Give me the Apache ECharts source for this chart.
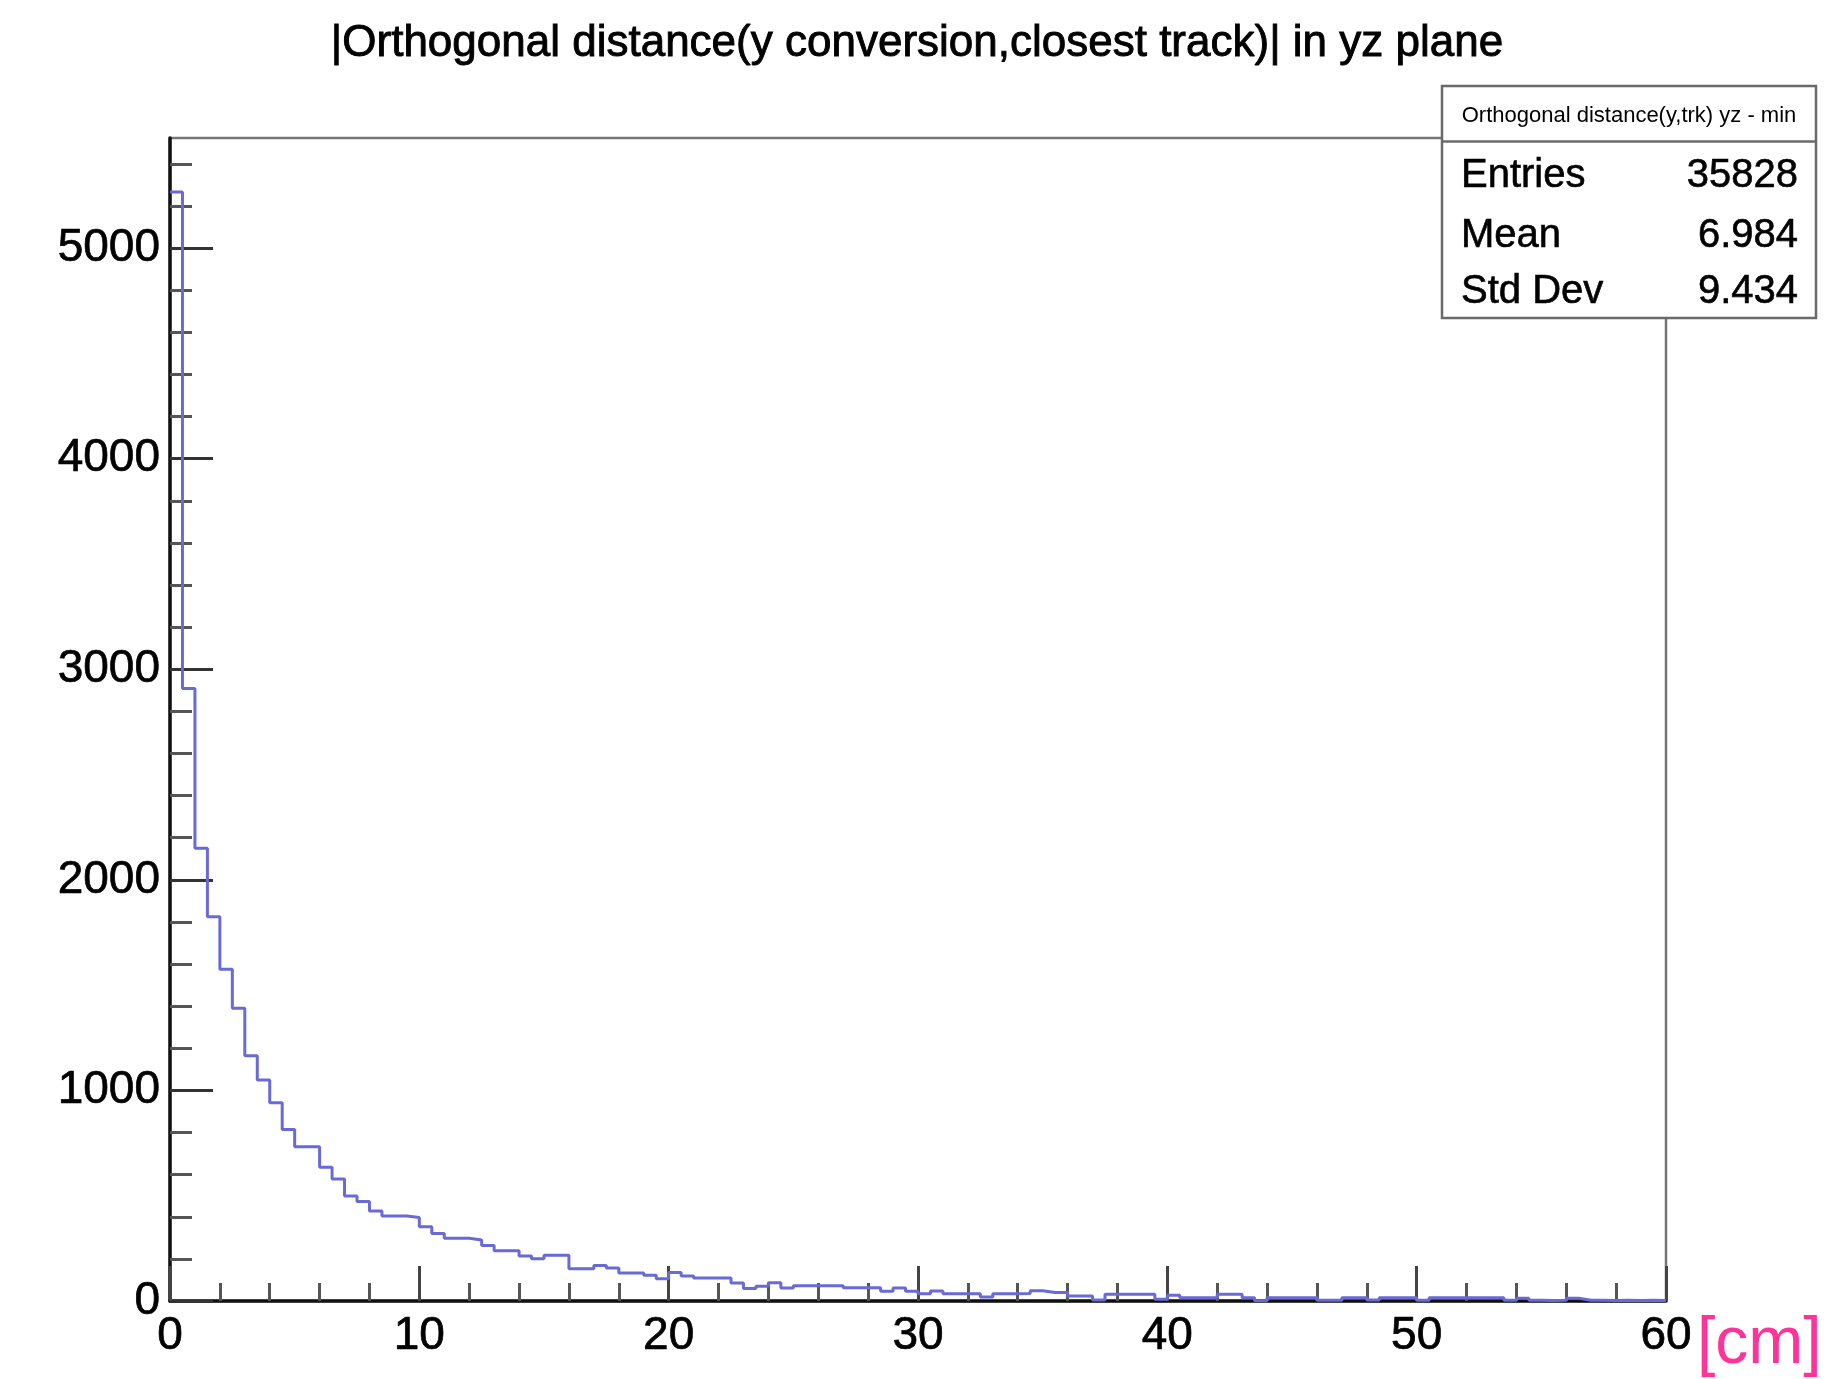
<!DOCTYPE html>
<html>
<head>
<meta charset="utf-8">
<script src="https://cdn.jsdelivr.net/npm/echarts@6/dist/echarts.min.js"></script>
<style>
html,body{margin:0;padding:0;background:#fff;}
#c{width:1834px;height:1379px;}
</style>
</head>
<body>
<div id="c"></div>
<script>
// ---- data ----
const titleText = '|Orthogonal distance(y conversion,closest track)| in yz plane';
const binWidth = 0.5;
const xMin = 0, xMax = 60;
const yMax = 5523;
const binValues = [
  5267, 2909, 2150, 1825, 1575, 1390, 1165, 1049, 942, 815,
  733, 733, 635, 579, 499, 472, 427, 404, 404, 397,
  353, 321, 298, 298, 290, 263, 239, 239, 214, 201,
  217, 217, 153, 153, 169, 157, 133, 133, 122, 106,
  135, 119, 109, 109, 109, 85, 59, 70, 87, 62,
  73, 73, 73, 73, 63, 63, 63, 46, 62, 46,
  35, 47, 35, 35, 35, 19, 35, 35, 36, 49,
  40, 40, 24, 24, 5, 32, 32, 32, 32, 8,
  27, 16, 16, 16, 32, 32, 16, 1, 16, 16,
  16, 16, 3, 3, 16, 16, 5, 16, 16, 16,
  3, 16, 16, 16, 16, 16, 16, 3, 13, 3,
  2, 3, 13, 4, 3, 2, 3, 2, 3, 2
];
const xMajorTicks = [0, 10, 20, 30, 40, 50, 60];
const xMinorTicks = [2,4,6,8,12,14,16,18,22,24,26,28,32,34,36,38,42,44,46,48,52,54,56,58];
const yMajorTicks = [0, 1000, 2000, 3000, 4000, 5000];
const yMinorTicks = [200,400,600,800,1200,1400,1600,1800,2200,2400,2600,2800,3200,3400,3600,3800,4200,4400,4600,4800,5200,5400];
const statsTitle = 'Orthogonal distance(y,trk) yz - min';
const statsLabels = ['Entries', 'Mean', 'Std Dev'];
const statsValues = ['35828', '6.984', '9.434'];
const unitLabel = '[cm]';

// ---- build ----
const FONT = '"Liberation Sans", Arial, Helvetica, sans-serif';
const histData = [];
binValues.forEach((v, i) => histData.push([xMin + i * binWidth, v]));
histData.push([xMax, binValues[binValues.length - 1]]);
histData.push([xMax, 0]);

const chart = echarts.init(document.getElementById('c'), null, {renderer: 'canvas'});

const gridL = 170, gridR = 168, gridT = 138, gridB = 78;

const statsX = 1442, statsY = 86, statsW = 374, statsH = 232;
const statsGraphics = [
  {type: 'rect', shape: {x: statsX, y: statsY, width: statsW, height: statsH},
   style: {fill: '#fff', stroke: '#6a6a6a', lineWidth: 2.5}, z: 100},
  {type: 'line', shape: {x1: statsX, y1: 141.5, x2: statsX + statsW, y2: 141.5},
   style: {stroke: '#6a6a6a', lineWidth: 2.5}, z: 101},
  {type: 'text', x: statsX + statsW / 2, y: 116, z: 102,
   style: {text: statsTitle, font: '22px ' + FONT, fill: '#000', align: 'center', verticalAlign: 'middle'}}
];
const rowY = [176, 236, 292];
statsLabels.forEach((lab, i) => {
  statsGraphics.push({type: 'text', x: statsX + 19, y: rowY[i], z: 102,
    style: {text: lab, font: '40px ' + FONT, fill: '#000', align: 'left', verticalAlign: 'middle',
            stroke: '#000', lineWidth: 0.6}});
  statsGraphics.push({type: 'text', x: statsX + statsW - 18, y: rowY[i], z: 102,
    style: {text: statsValues[i], font: '40px ' + FONT, fill: '#000', align: 'right', verticalAlign: 'middle',
            stroke: '#000', lineWidth: 0.6}});
});
statsGraphics.push({type: 'text', x: 1697, y: 1345, z: 102,
  style: {text: unitLabel, font: '66px ' + FONT, fill: '#ff3399', align: 'left', verticalAlign: 'middle'}});

const option = {
  animation: false,
  backgroundColor: '#fff',
  title: {
    text: titleText, left: 'center', top: 17,
    textStyle: {fontFamily: FONT, fontSize: 44, fontWeight: 'normal', color: '#000',
                textBorderColor: '#000', textBorderWidth: 0.9}
  },
  grid: {left: gridL, right: gridR, top: gridT, bottom: gridB, show: true,
    borderColor: '#777', borderWidth: 2.5, backgroundColor: 'transparent'},
  xAxis: [
    {type: 'value', min: xMin, max: xMax, interval: 10,
     axisLine: {show: true, onZero: false, lineStyle: {color: '#111', width: 3.5}},
     axisTick: {show: true, inside: true, length: 35, customValues: xMajorTicks, lineStyle: {color: '#444', width: 3}},
     axisLabel: {show: true, customValues: xMajorTicks, margin: 12, fontFamily: FONT, fontSize: 46, color: '#000',
                 textBorderColor: '#000', textBorderWidth: 0.7,
                 formatter: v => String(v)},
     splitLine: {show: false}},
    {type: 'value', min: xMin, max: xMax, position: 'bottom', offset: 0,
     axisLine: {show: false},
     axisTick: {show: true, inside: true, length: 18, customValues: xMinorTicks, lineStyle: {color: '#555', width: 3}},
     axisLabel: {show: false}, splitLine: {show: false}}
  ],
  yAxis: [
    {type: 'value', min: 0, max: yMax, position: 'left',
     axisLine: {show: true, onZero: false, lineStyle: {color: '#111', width: 3.5}},
     axisTick: {show: true, inside: true, length: 43, customValues: yMajorTicks, lineStyle: {color: '#333', width: 3}},
     axisLabel: {show: true, customValues: yMajorTicks, margin: 10, fontFamily: FONT, fontSize: 46, color: '#000',
                 textBorderColor: '#000', textBorderWidth: 0.7,
                 formatter: v => String(v)},
     splitLine: {show: false}},
    {type: 'value', min: 0, max: yMax, position: 'left', offset: 0,
     axisLine: {show: false},
     axisTick: {show: true, inside: true, length: 22, customValues: yMinorTicks, lineStyle: {color: '#555', width: 3}},
     axisLabel: {show: false}, splitLine: {show: false}}
  ],
  series: [{
    type: 'line', xAxisIndex: 0, yAxisIndex: 0,
    data: histData, step: 'end', symbol: 'none', z: 5,
    lineStyle: {color: '#6a6ad6', width: 3},
    clip: true
  }],
  graphic: statsGraphics
};
chart.setOption(option);
</script>
</body>
</html>
